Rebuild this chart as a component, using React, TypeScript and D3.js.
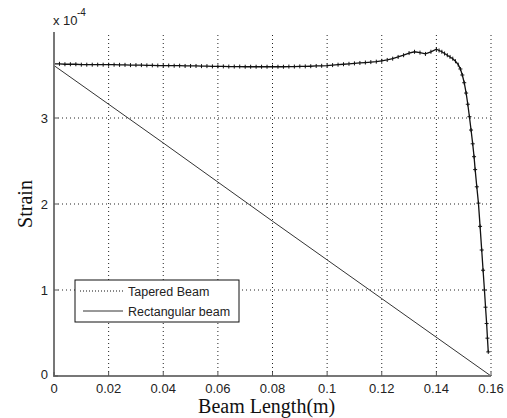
import React from "react";
import * as d3 from "d3";

const xTicks = [0, 0.02, 0.04, 0.06, 0.08, 0.1, 0.12, 0.14, 0.16];
const xTickLabels = ["0", "0.02", "0.04", "0.06", "0.08", "0.1", "0.12", "0.14", "0.16"];
const yTicks = [0, 1, 2, 3];
const yTickLabels = ["0", "1", "2", "3"];

// Tapered beam strain (x 1e-4)
const taperedX = [
  0, 0.002, 0.004, 0.006, 0.008, 0.01, 0.012, 0.014, 0.016, 0.018, 0.02, 0.022, 0.024, 0.026, 0.028, 0.03,
  0.032, 0.034, 0.036, 0.038, 0.04, 0.042, 0.044, 0.046, 0.048, 0.05, 0.052, 0.054, 0.056, 0.058, 0.06,
  0.062, 0.064, 0.066, 0.068, 0.07, 0.072, 0.074, 0.076, 0.078, 0.08, 0.082, 0.084, 0.086, 0.088, 0.09,
  0.092, 0.094, 0.096, 0.098, 0.1, 0.102, 0.104, 0.106, 0.108, 0.11, 0.112, 0.114, 0.116, 0.118, 0.12,
  0.122, 0.124, 0.126, 0.128, 0.13, 0.132, 0.134, 0.136, 0.138, 0.14, 0.141, 0.142, 0.143, 0.144, 0.145,
  0.146, 0.147, 0.148, 0.1488, 0.1495, 0.1502, 0.1509, 0.1515, 0.1521, 0.1527, 0.1533, 0.1538, 0.1542,
  0.1548, 0.1554, 0.156, 0.1566, 0.1571, 0.1576, 0.158, 0.1584, 0.1587, 0.159
];
const taperedY = [
  3.63, 3.63, 3.625, 3.625, 3.625, 3.62, 3.62, 3.62, 3.62, 3.62, 3.62, 3.62, 3.618, 3.618, 3.615, 3.615,
  3.615, 3.612, 3.612, 3.61, 3.61, 3.61, 3.608, 3.608, 3.605, 3.605, 3.605, 3.603, 3.603, 3.6, 3.6,
  3.6, 3.598, 3.598, 3.598, 3.596, 3.596, 3.596, 3.596, 3.596, 3.596, 3.596, 3.596, 3.598, 3.598, 3.6,
  3.6, 3.602, 3.605, 3.607, 3.61, 3.615, 3.62, 3.625, 3.63, 3.635, 3.64, 3.645, 3.65, 3.655, 3.665,
  3.675, 3.69, 3.71, 3.73, 3.755, 3.77, 3.76, 3.745, 3.77, 3.8, 3.785, 3.77, 3.75, 3.73, 3.71,
  3.69, 3.66, 3.62, 3.57, 3.5, 3.41, 3.29, 3.16, 3.015, 2.86, 2.7, 2.55, 2.4,
  2.2, 2.01, 1.74, 1.465, 1.23, 1.0, 0.8, 0.61, 0.44, 0.28
];

// Rectangular beam strain (x 1e-4)
const rectX = [0, 0.04, 0.08, 0.12, 0.16];
const rectY = [3.61, 2.71, 1.8, 0.9, 0];

const W = 507;
const H = 418;
const left = 54;
const right = 491;
const top = 32;
const bottom = 376;

export default function App() {
  const x = d3.scaleLinear().domain([0, 0.16]).range([left, right]);
  const y = d3.scaleLinear().domain([0, 4]).range([bottom, top]);

  const taperedData = taperedX.map((v, i) => [v, taperedY[i]] as [number, number]);
  const rectData = rectX.map((v, i) => [v, rectY[i]] as [number, number]);
  const line = d3
    .line<[number, number]>()
    .x((d) => x(d[0]))
    .y((d) => y(d[1]));

  const tickFont = "'Liberation Sans', Arial, sans-serif";
  const serif = "'Liberation Serif', 'Times New Roman', serif";

  return (
    <svg
      width={W}
      height={H}
      style={{ position: "absolute", left: 0, top: 0, background: "#fff" }}
    >
      <rect x={0} y={0} width={W} height={H} fill="#fff" />
      {/* grid */}
      {xTicks.slice(1).map((t) => (
        <line
          key={"gx" + t}
          x1={x(t)}
          x2={x(t)}
          y1={bottom}
          y2={top}
          stroke="#222"
          strokeWidth={1}
          strokeDasharray="1 3"
        />
      ))}
      {yTicks.slice(1).map((t) => (
        <line
          key={"gy" + t}
          x1={left}
          x2={right}
          y1={y(t)}
          y2={y(t)}
          stroke="#222"
          strokeWidth={1}
          strokeDasharray="1 3"
        />
      ))}

      {/* data */}
      <path d={line(rectData) || ""} fill="none" stroke="#333" strokeWidth={1} />
      <path d={line(taperedData) || ""} fill="none" stroke="#111" strokeWidth={1.3} />
      {taperedData.map((d, i) => (
        <line
          key={"m" + i}
          x1={x(d[0])}
          x2={x(d[0])}
          y1={y(d[1]) - 2}
          y2={y(d[1]) + 2}
          stroke="#111"
          strokeWidth={1}
        />
      ))}
      {taperedData.slice(-20).map((d, i) => (
        <line
          key={"h" + i}
          x1={x(d[0]) - 2}
          x2={x(d[0]) + 2}
          y1={y(d[1])}
          y2={y(d[1])}
          stroke="#111"
          strokeWidth={1}
        />
      ))}

      {/* axes */}
      <line x1={left} x2={left} y1={top} y2={bottom + 1} stroke="#777" strokeWidth={2} />
      <line x1={left - 1} x2={right} y1={bottom} y2={bottom} stroke="#777" strokeWidth={2} />
      {xTicks.map((t, i) => (
        <g key={"xt" + t}>
          <line x1={x(t)} x2={x(t)} y1={bottom} y2={bottom - 4} stroke="#555" />
          <text
            x={x(t)}
            y={393}
            textAnchor="middle"
            fontFamily={tickFont}
            fontSize={13}
            fill="#222"
          >
            {xTickLabels[i]}
          </text>
        </g>
      ))}
      {yTicks.map((t, i) => (
        <g key={"yt" + t}>
          <line x1={left} x2={left + 4} y1={y(t)} y2={y(t)} stroke="#555" />
          <text
            x={48}
            y={y(t) + (i === 0 ? 3 : 5)}
            textAnchor="end"
            fontFamily={tickFont}
            fontSize={13}
            fill="#222"
          >
            {yTickLabels[i]}
          </text>
        </g>
      ))}

      {/* exponent */}
      <text x={53} y={25} fontFamily={tickFont} fontSize={13} fill="#222">
        x 10
      </text>
      <text x={77} y={16} fontFamily={tickFont} fontSize={10} fill="#222">
        -4
      </text>

      {/* axis labels */}
      <text
        x={266.7}
        y={413}
        textAnchor="middle"
        fontFamily={serif}
        fontSize={20}
        fill="#111"
      >
        Beam Length(m)
      </text>
      <text
        transform="translate(32,204) rotate(-90)"
        textAnchor="middle"
        fontFamily={serif}
        fontSize={20}
        fill="#111"
      >
        Strain
      </text>

      {/* legend */}
      <rect x={75} y={280} width={164} height={42} fill="#fff" stroke="#111" strokeWidth={1} />
      <line x1={80} x2={124} y1={291} y2={291} stroke="#111" strokeWidth={1} strokeDasharray="1 2" />
      <line x1={83} x2={123} y1={311} y2={311} stroke="#333" strokeWidth={1} />
      <text x={128} y={295.5} fontFamily={tickFont} fontSize={12.5} fill="#222">
        Tapered Beam
      </text>
      <text x={128} y={315.5} fontFamily={tickFont} fontSize={12.5} fill="#222">
        Rectangular beam
      </text>
    </svg>
  );
}
